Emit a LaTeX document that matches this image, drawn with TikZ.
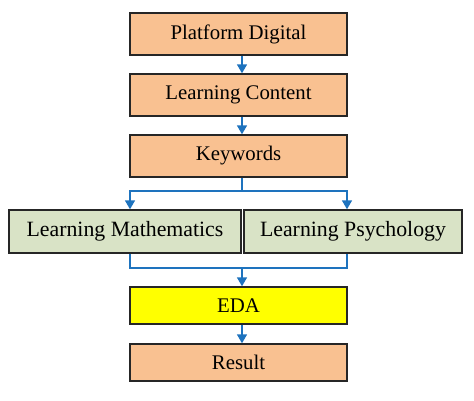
\documentclass[tikz,border=0pt]{standalone}
\usepackage{fontspec}
\setmainfont{Liberation Serif}
\usetikzlibrary{arrows.meta}
\definecolor{peach}{HTML}{F9C191}
\definecolor{sage}{HTML}{D9E3C6}
\definecolor{ylw}{HTML}{FFFF00}
\definecolor{lineblue}{HTML}{1E73BE}
\tikzset{
  box/.style={draw=black!85, line width=1.4pt, minimum height=42pt, inner sep=0pt, font=\fontsize{20.8}{23}\selectfont},
  orangebox/.style={box, fill=peach, minimum width=217pt},
  greenbox/.style={box, fill=sage, font=\fontsize{21.8}{24}\selectfont},
  conn/.style={draw=lineblue, line width=1.5pt},
  arr/.style={conn, -{Triangle[length=9pt,width=10pt]}}
}
\begin{document}
\begin{tikzpicture}[x=1pt,y=-1pt]
\useasboundingbox (0,0) rectangle (474,401);
\node[orangebox] (pd) at (238.5,34) {Platform Digital};
\node[orangebox] (lc) at (238.5,95) {Learning Content};
\node[orangebox] (kw) at (238.5,156) {Keywords};
\node[greenbox, minimum width=232pt, minimum height=43pt] (lm) at (125,231.5) {Learning Mathematics};
\node[greenbox, minimum width=218pt, minimum height=43pt] (lp) at (353,231.5) {Learning Psychology};
\node[orangebox, fill=ylw, minimum height=37pt] (eda) at (238.5,305.5) {EDA};
\node[orangebox, minimum height=37pt] (res) at (238.5,362.5) {Result};
\coordinate (cL) at (130,191);
\coordinate (cR) at (347,191);
\coordinate (mL) at (130,268);
\coordinate (mR) at (347,268);
\draw[arr] (pd.south -| 242,0) -- (lc.north -| 242,0);
\draw[arr] (lc.south -| 242,0) -- (kw.north -| 242,0);
\draw[conn] (kw.south -| 242,0) -- (242,191);
\draw[arr] (242,191) -- (cL) -- (lm.north -| cL);
\draw[arr] (242,191) -- (cR) -- (lp.north -| cR);
\draw[conn] (lm.south -| mL) -- (mL) -- (mR) -- (lp.south -| mR);
\draw[arr] (242,268) -- (eda.north -| 242,0);
\draw[arr] (eda.south -| 242,0) -- (res.north -| 242,0);
\end{tikzpicture}
\end{document}
